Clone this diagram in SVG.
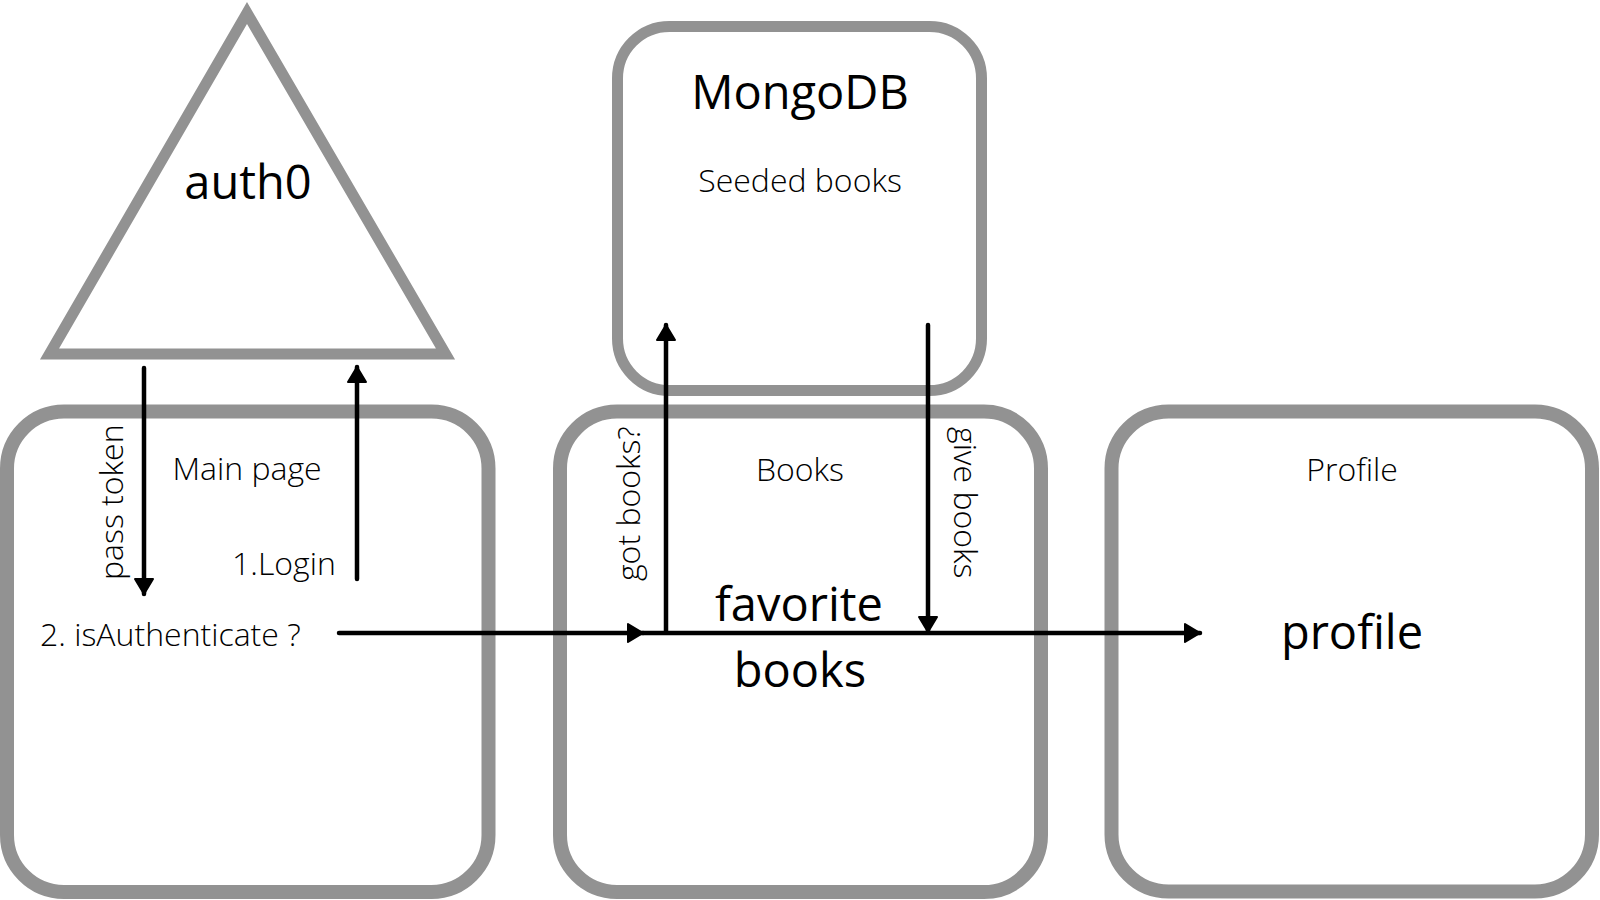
<svg xmlns="http://www.w3.org/2000/svg" width="1600" height="900" viewBox="0 0 1600 900">
  <style>
    .box { fill: none; stroke: #929292; stroke-width: 14; }
    .tri { fill: none; stroke: #929292; stroke-width: 11; stroke-linejoin: miter; }
    .conn { fill: none; stroke: #000; stroke-width: 4.5; stroke-linecap: round; }
    .big { font-family: "Open Sans", "Liberation Sans", sans-serif; font-size: 47px; font-weight: 400; fill: #000; }
    .lbl { font-family: "Open Sans", "Liberation Sans", sans-serif; font-size: 32px; font-weight: 300; fill: #000; }
    .mid { text-anchor: middle; }
  </style>
  <defs>
    <marker id="arrow" markerUnits="userSpaceOnUse" markerWidth="20" markerHeight="22" viewBox="0 0 20 22" refX="17" refY="11" orient="auto">
      <path d="M2,2 L17,11 L2,20 Z" fill="#000" stroke="#000" stroke-width="2" stroke-linejoin="round"/>
    </marker>
  </defs>

  <rect width="1600" height="900" fill="#fff"/>

  <g id="auth0">
    <polygon class="tri" points="247,13 49.5,354 445.5,354"/>
    <text class="big mid" x="248" y="199">auth0</text>
  </g>

  <g id="mongodb">
    <rect class="box" x="617.5" y="26.5" width="364" height="364" rx="52" ry="52" style="stroke-width:11"/>
    <text class="big mid" x="800" y="109">MongoDB</text>
    <text class="lbl mid" x="800" y="192">Seeded books</text>
  </g>

  <g id="main-page">
    <rect class="box" x="7" y="411.5" width="481.5" height="480.5" rx="57" ry="57"/>
    <text class="lbl mid" x="247" y="480">Main page</text>
    <text class="lbl" x="232" y="575">1.Login</text>
    <text class="lbl" x="40" y="646">2. isAuthenticate ?</text>
  </g>

  <g id="books">
    <rect class="box" x="560" y="411.5" width="481" height="480.5" rx="57" ry="57"/>
    <text class="lbl mid" x="800" y="481">Books</text>
    <text class="big mid" x="799" y="621">favorite</text>
    <text class="big mid" x="800" y="687">books</text>
  </g>

  <g id="profile">
    <rect class="box" x="1111.5" y="411.5" width="480.5" height="480" rx="57" ry="57"/>
    <text class="lbl mid" x="1352" y="481">Profile</text>
    <text class="big mid" x="1352" y="649">profile</text>
  </g>

  <g id="connectors">
    <line class="conn" x1="144" y1="368" x2="144" y2="594" marker-end="url(#arrow)"/>
    <line class="conn" x1="357" y1="579" x2="357" y2="367" marker-end="url(#arrow)"/>
    <line class="conn" x1="339" y1="633" x2="643" y2="633" marker-end="url(#arrow)"/>
    <line class="conn" x1="643" y1="633" x2="1200" y2="633" marker-end="url(#arrow)"/>
    <line class="conn" x1="666" y1="631" x2="666" y2="325" marker-end="url(#arrow)"/>
    <line class="conn" x1="928" y1="325" x2="928" y2="632" marker-end="url(#arrow)"/>
    <text class="lbl" transform="translate(123,580) rotate(-90)">pass token</text>
    <text class="lbl" transform="translate(640,581) rotate(-90)">got books?</text>
    <text class="lbl" transform="translate(954,427) rotate(90)">give books</text>
  </g>
</svg>
